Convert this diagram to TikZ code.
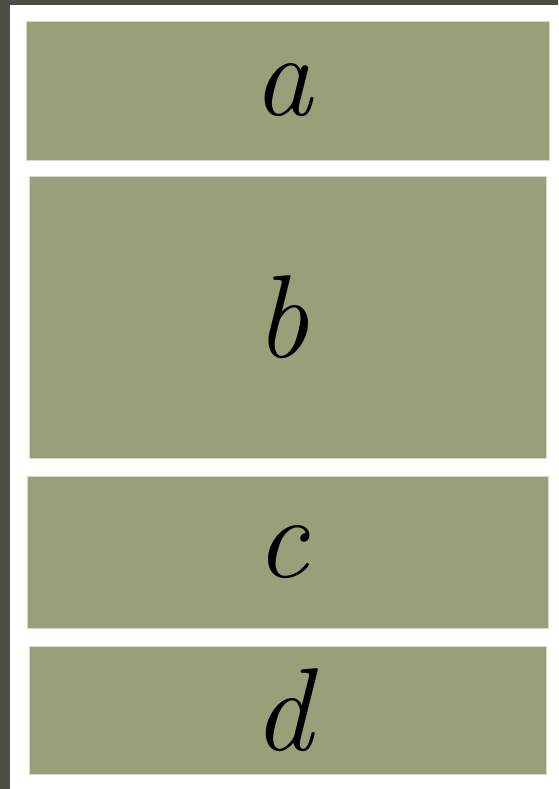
\documentclass[tikz,border=0pt]{standalone}
\usepackage{fontspec}
\setmainfont{Latin Modern Roman}
\newcommand{\pl}[1]{\hspace*{-10pt}#1}
\begin{document}
\begin{tikzpicture}[x=1pt,y=-1pt,
  panel/.style={fill=olive, draw=panelline, line width=0.8pt, inner sep=0pt, font=\fontsize{118}{118}\selectfont\itshape},
]
\definecolor{olive}{HTML}{989F79}
\definecolor{band}{HTML}{4A4E44}
\definecolor{panelline}{HTML}{D6DACC}
\useasboundingbox (0,0) rectangle (558,789);
\fill[white] (0,0) rectangle (558,789);
\fill[band] (0,0) rectangle (558,5);
\fill[band] (0,0) rectangle (10,789);
\node[panel, minimum width=523, minimum height=139] (a) at (287.5,90.5) {\pl{a}};
\node[panel, minimum width=517, minimum height=282] (b) at (287.5,317.5) {\pl{b}};
\node[panel, minimum width=521, minimum height=152] (c) at (287.5,552) {\pl{c}};
\node[panel, minimum width=517, minimum height=128] (d) at (287.5,710) {\pl{d}};
\end{tikzpicture}
\end{document}
